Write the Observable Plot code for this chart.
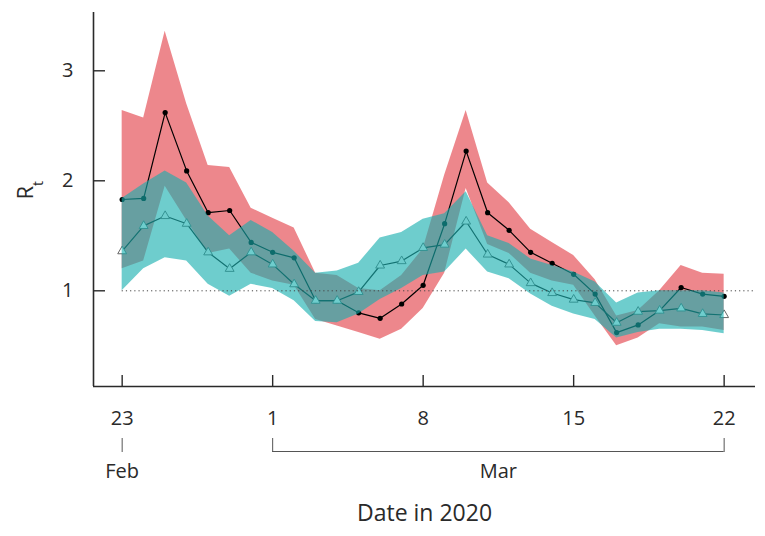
<!DOCTYPE html>
<html><head><meta charset="utf-8">
<script src="https://cdn.jsdelivr.net/npm/d3@7"></script>
<script src="https://cdn.jsdelivr.net/npm/@observablehq/plot@0.6"></script>
<style>body{margin:0;background:#fff;}</style>
</head><body><div id="chart"></div>
<script>
// ---- data ----
const dates = ["2020-02-23","2020-02-24","2020-02-25","2020-02-26","2020-02-27","2020-02-28","2020-02-29",
  "2020-03-01","2020-03-02","2020-03-03","2020-03-04","2020-03-05","2020-03-06","2020-03-07",
  "2020-03-08","2020-03-09","2020-03-10","2020-03-11","2020-03-12","2020-03-13","2020-03-14",
  "2020-03-15","2020-03-16","2020-03-17","2020-03-18","2020-03-19","2020-03-20","2020-03-21","2020-03-22"];
// series A (black line, dots, red band)
const rtA     = [1.83,1.84,2.62,2.09,1.71,1.73,1.44,1.35,1.30,0.91,0.91,0.80,0.75,0.88,1.05,1.61,2.27,1.71,1.55,1.35,1.25,1.15,0.97,0.62,0.69,0.82,1.03,0.97,0.95];
const rtALow  = [1.20,1.27,1.95,1.64,1.34,1.38,1.16,1.09,1.05,0.74,0.68,0.62,0.56,0.65,0.84,1.16,1.93,1.42,1.34,1.16,1.09,1.05,0.77,0.50,0.57,0.70,0.67,0.67,0.64];
const rtAHigh = [2.64,2.57,3.36,2.70,2.14,2.12,1.75,1.66,1.57,1.16,1.14,1.02,1.00,1.14,1.38,2.05,2.64,1.98,1.80,1.56,1.44,1.32,1.10,0.77,0.82,1.00,1.23,1.16,1.15];
// series B (grey line, triangles, teal band)
const rtB     = [1.36,1.59,1.68,1.61,1.35,1.20,1.35,1.24,1.06,0.91,0.91,0.99,1.23,1.27,1.39,1.42,1.63,1.33,1.24,1.07,0.98,0.92,0.89,0.71,0.81,0.82,0.84,0.79,0.78];
const rtBLow  = [1.00,1.20,1.30,1.27,1.06,0.95,1.06,1.02,0.91,0.72,0.71,0.79,0.92,1.02,1.14,1.17,1.38,1.17,1.11,0.97,0.86,0.79,0.74,0.57,0.62,0.65,0.65,0.64,0.61];
const rtBHigh = [1.84,1.97,2.09,1.98,1.68,1.50,1.64,1.53,1.36,1.16,1.18,1.25,1.48,1.53,1.65,1.70,1.90,1.50,1.43,1.29,1.23,1.17,1.08,0.89,0.98,1.00,1.00,1.00,0.98];
// ticks and labels
const xTickDates = ["2020-02-23","2020-03-01","2020-03-08","2020-03-15","2020-03-22"];
const yTicks = [1, 2, 3];
const monthLabels = ["Feb", "Mar"];
const monthStarts = ["2020-02-23", "2020-03-01"];
const monthEnds   = ["2020-02-23", "2020-03-22"];
const threshold = [1];
const yLabel = "Rt";
const xLabel = "Date in 2020";

// ---- build ----
const W = 765, H = 536, mL = 93, mR = 10, mT = 12, mB = 150;
const innerW = W - mL - mR, innerH = H - mT - mB;
const parse = d3.utcParse("%Y-%m-%d");
const rows = dates.map((d, i) => ({
  date: parse(d), a: rtA[i], aLo: rtALow[i], aHi: rtAHigh[i], b: rtB[i], bLo: rtBLow[i], bHi: rtBHigh[i]
}));
const months = monthLabels.map((m, i) => {
  const s = parse(monthStarts[i]), e = parse(monthEnds[i]);
  return {label: m, start: s, end: e, mid: new Date((+s + +e) / 2)};
});
const bracketTicks = [...new Set(months.flatMap(m => [+m.start, +m.end]))].map(t => new Date(t));
const xTicks = xTickDates.map(parse);
const first = rows[0].date, last = rows[rows.length - 1].date;
const xDomain = [d3.utcHour.offset(first, -32), d3.utcHour.offset(last, 35)];
const yDomain = [0.13, 3.53];
const ink = "#2a2a2a";

const chart = Plot.plot({
  width: W, height: H,
  marginLeft: mL, marginRight: mR, marginTop: mT, marginBottom: mB,
  x: {type: "utc", domain: xDomain},
  y: {domain: yDomain},
  style: {fontFamily: "'Open Sans', sans-serif", fontSize: "20px", color: ink, background: "#fff"},
  marks: [
    Plot.areaY(rows, {x: "date", y1: "aLo", y2: "aHi", fill: "rgb(222,36,46)", fillOpacity: 0.55}),
    Plot.lineY(rows, {x: "date", y: "a", stroke: "#000", strokeWidth: 1.2}),
    Plot.dot(rows, {x: "date", y: "a", r: 2.6, fill: "#000"}),
    Plot.lineY(rows, {x: "date", y: "b", stroke: "#111", strokeWidth: 1.2}),
    Plot.dot(rows, {x: "date", y: "b", symbol: "triangle", r: 3.3, fill: "#fff", stroke: "#666", strokeWidth: 1}),
    Plot.areaY(rows, {x: "date", y1: "bLo", y2: "bHi", fill: "rgb(21,174,174)", fillOpacity: 0.62}),
    Plot.ruleY(threshold, {x1: first, x2: xDomain[1], stroke: "#444", strokeWidth: 1, strokeDasharray: "1.2,3"}),
    // axis lines
    Plot.ruleX([xDomain[0]], {stroke: ink, strokeWidth: 1.6}),
    Plot.ruleY([yDomain[0]], {stroke: ink, strokeWidth: 1.6}),
    // inward tick marks
    Plot.tickY(yTicks, {y: d => d, insetRight: innerW - 12, stroke: ink, strokeWidth: 1.4}),
    Plot.tickX(xTicks, {x: d => d, insetTop: innerH - 11, stroke: ink, strokeWidth: 1.4}),
    // tick labels
    Plot.axisY(yTicks, {tickSize: 0, tickPadding: 20, tickFormat: d3.format("d"), label: null, fontSize: 20}),
    Plot.axisX(xTicks, {tickSize: 0, tickPadding: 24, tickFormat: d3.utcFormat("%-d"), label: null, fontSize: 20}),
    // month brackets
    Plot.axisX(bracketTicks, {anchor: "top", dy: innerH + 65, tickSize: 14, fill: "none", stroke: "#555", label: null}),
    Plot.ruleY(months, {y: () => yDomain[0], x1: "start", x2: "end", dy: 65, stroke: "#555", strokeWidth: 1}),
    Plot.text(months, {x: "mid", text: "label", frameAnchor: "bottom", dy: 91, fontSize: 20}),
    Plot.text([xLabel], {frameAnchor: "bottom", dy: 134, fontSize: 23}),
    Plot.text([yLabel], {frameAnchor: "left", dx: -68, rotate: -90, fontSize: 22})
  ]
});
d3.select(chart).selectAll("text").filter(function() { return this.textContent === yLabel; })
  .each(function() {
    const t = d3.select(this); t.text("");
    t.append("tspan").text(yLabel[0]);
    t.append("tspan").attr("baseline-shift", "sub").attr("font-size", 14).text(yLabel.slice(1));
  });
document.getElementById("chart").appendChild(chart);
</script>
</body></html>
